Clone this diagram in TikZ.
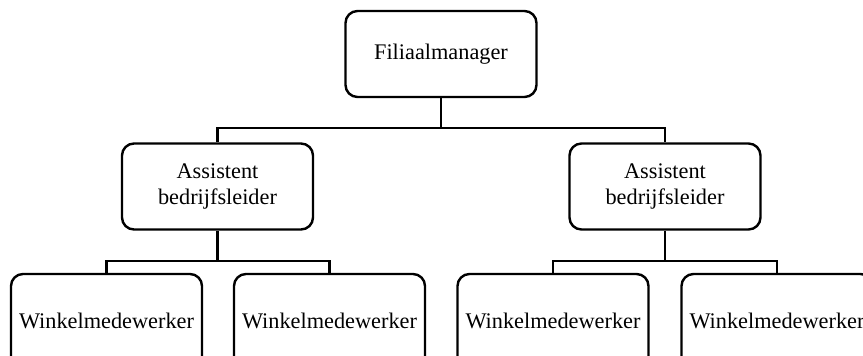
\documentclass[tikz,border=0pt]{standalone}
\usepackage{fontspec}
\setmainfont{Liberation Serif}
\usepackage{tikz}

\begin{document}
\begin{tikzpicture}[x=0.5pt, y=-0.5pt,
		rol/.style={draw, line width=1.2pt, rounded corners=6pt, align=center,
			minimum width=95.5pt, minimum height=43pt, inner sep=1pt,
			font=\fontsize{11.15}{12.8}\selectfont},
		lijn/.style={line width=1.3pt}]
			%%%%% START %%%%%
			\useasboundingbox (0, 0) rectangle (863, 355);
			
			\node[rol] (manager) at (441, 54) {Filiaalmanager};
			
			\node[rol] (assL) at (217.5, 186.5) {Assistent\\bedrijfsleider};
			\node[rol] (assR) at (665, 186.5) {Assistent\\bedrijfsleider};
			
			\node[rol, minimum height=47pt] (wLa) at (106.5, 321) {Winkelmedewerker};
			\node[rol, minimum height=47pt] (wLb) at (329.5, 321) {Winkelmedewerker};
			\node[rol, minimum height=47pt] (wRa) at (553, 321) {Winkelmedewerker};
			\node[rol, minimum height=47pt] (wRb) at (777, 321) {Winkelmedewerker};
			
			\coordinate (bus) at (441, 128);
			\draw[lijn] (manager.south) -- (bus);
			\draw[lijn] (assL.north) |- (bus) -| (assR.north);
			
			\coordinate (busL) at (217.5, 261);
			\draw[lijn] (assL.south) -- (busL);
			\draw[lijn] (wLa.north) |- (busL) -| (wLb.north);
			
			\coordinate (busR) at (665, 261);
			\draw[lijn] (assR.south) -- (busR);
			\draw[lijn] (wRa.north) |- (busR) -| (wRb.north);
			
			%%%%% END %%%%%
		\end{tikzpicture}
\end{document}
